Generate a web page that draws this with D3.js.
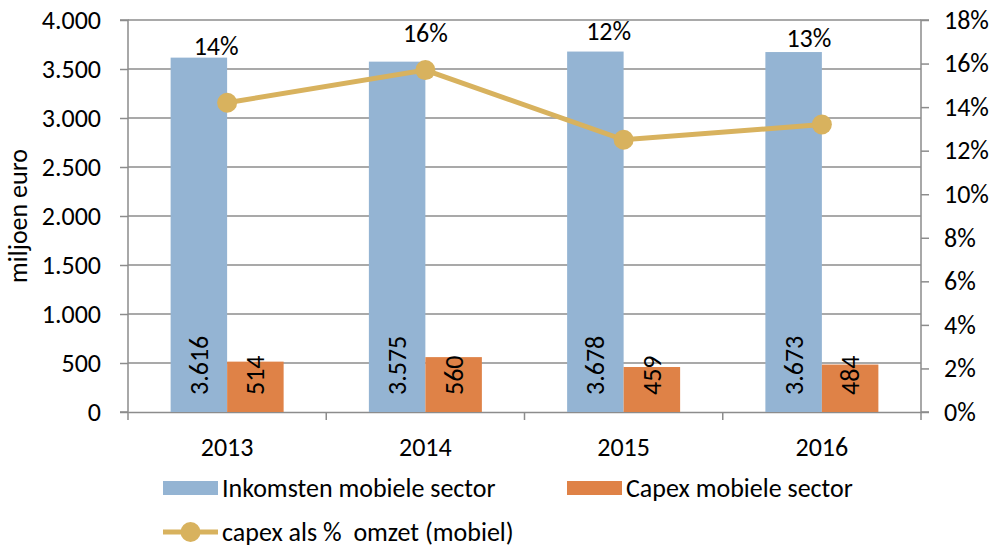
<!DOCTYPE html>
<html>
<head>
<meta charset="utf-8">
<script src="https://cdn.jsdelivr.net/npm/d3@7"></script>
<style>
  body { margin: 0; background: #fff; }
  text { font-family: Carlito, Lato, "Open Sans", sans-serif; fill: #000; white-space: pre; }
</style>
</head>
<body>
<div id="chart"></div>
<script>
const years = ["2013", "2014", "2015", "2016"];
const inkomsten = [3616, 3575, 3678, 3673];
const capex = [514, 560, 459, 484];
const capexPct = [14.2, 15.7, 12.5, 13.2];
const pctLabels = ["14%", "16%", "12%", "13%"];
const leftTicks = [0, 500, 1000, 1500, 2000, 2500, 3000, 3500, 4000];
const rightTicks = [0, 2, 4, 6, 8, 10, 12, 14, 16, 18];
const seriesNames = ["Inkomsten mobiele sector", "Capex mobiele sector", "capex als %  omzet (mobiel)"];

// hand-moved percent labels (offset from top of blue bar)
const pctNudge = [[-11, -3], [0, -20], [-15, -12], [-13, -5]];

const colors = { ink: "#94B4D3", cap: "#DF8247", line: "#D8B25E", grid: "#8C8C8C" };

const width = 995, height = 550;
const margin = { top: 20, right: 74, bottom: 138, left: 128 };
const innerW = width - margin.left - margin.right;
const innerH = height - margin.top - margin.bottom;
const fontSize = 26;

const nl = d3.formatLocale({ decimal: ",", thousands: ".", grouping: [3], currency: ["€", ""] });
const fmt = nl.format(",d");

const svg = d3.select("#chart").append("svg")
  .attr("width", width)
  .attr("height", height);

const g = svg.append("g")
  .attr("transform", `translate(${margin.left},${margin.top})`);

const x0 = d3.scaleBand()
  .domain(years)
  .range([0, innerW])
  .paddingInner(0.43)
  .paddingOuter(0.215);

const x1 = d3.scaleBand()
  .domain(["ink", "cap"])
  .range([0, x0.bandwidth()]);

const yL = d3.scaleLinear().domain([0, 4000]).range([innerH, 0]);
const yR = d3.scaleLinear().domain([0, 18]).range([innerH, 0]);

// gridlines
g.append("g")
  .selectAll("line")
  .data(leftTicks.slice(1))
  .enter()
  .append("line")
  .attr("x1", 0)
  .attr("x2", innerW)
  .attr("y1", d => yL(d))
  .attr("y2", d => yL(d))
  .attr("stroke", colors.grid)
  .attr("stroke-width", 1.5);

// left axis
const axL = g.append("g")
  .call(d3.axisLeft(yL).tickValues(leftTicks).tickFormat(fmt).tickSize(8).tickPadding(19));
// right axis
const axR = g.append("g")
  .attr("transform", `translate(${innerW},0)`)
  .call(d3.axisRight(yR).tickValues(rightTicks).tickFormat(d => d + "%").tickSize(8).tickPadding(15));
// bottom axis
const boundaries = years.map(d => x0(d) - x0.step() * x0.paddingInner() / 2).concat([innerW]);
const axB = g.append("g")
  .attr("transform", `translate(0,${innerH})`)
  .call(d3.axisBottom(x0).tickSize(0).tickPadding(26));
axB.selectAll(".tick line").remove();
axB.selectAll(".bt")
  .data(boundaries)
  .enter()
  .append("line")
  .attr("x1", d => d)
  .attr("x2", d => d)
  .attr("y1", 0)
  .attr("y2", 8)
  .attr("stroke", colors.grid)
  .attr("stroke-width", 1.5);

[axL, axR, axB].forEach(ax => {
  ax.select(".domain").attr("stroke", colors.grid).attr("stroke-width", 1.5);
  ax.selectAll(".tick line").attr("stroke", colors.grid).attr("stroke-width", 1.5);
  ax.selectAll("text").attr("font-size", fontSize).attr("font-family", null).attr("fill", "#000");
});
axL.select(".domain").attr("d", `M-8,${innerH}H0V0H-8`);
axR.select(".domain").attr("d", `M8,${innerH}H0V0H8`);

// bars
const groups = g.append("g")
  .selectAll("g")
  .data(years)
  .enter()
  .append("g")
  .attr("transform", d => `translate(${x0(d)},0)`);

groups.append("rect")
  .attr("x", x1("ink"))
  .attr("width", x1.bandwidth())
  .attr("y", (d, i) => yL(inkomsten[i]))
  .attr("height", (d, i) => innerH - yL(inkomsten[i]))
  .attr("fill", colors.ink);

groups.append("rect")
  .attr("x", x1("cap"))
  .attr("width", x1.bandwidth())
  .attr("y", (d, i) => yL(capex[i]))
  .attr("height", (d, i) => innerH - yL(capex[i]))
  .attr("fill", colors.cap);

// rotated value labels inside base
const valueLabel = (key, arr) => {
  groups.append("text")
    .attr("transform", `translate(${x1(key) + x1.bandwidth() / 2},${innerH - 17}) rotate(-90)`)
    .attr("dy", "0.35em")
    .attr("text-anchor", "start")
    .attr("font-size", fontSize)
    .text((d, i) => fmt(arr[i]));
};
valueLabel("ink", inkomsten);
valueLabel("cap", capex);

// percentage line
const cx = d => x0(d) + x0.bandwidth() / 2;
const line = d3.line()
  .x((d, i) => cx(years[i]))
  .y(d => yR(d));

g.append("path")
  .datum(capexPct)
  .attr("d", line)
  .attr("fill", "none")
  .attr("stroke", colors.line)
  .attr("stroke-width", 5);

g.selectAll(".dot")
  .data(capexPct)
  .enter()
  .append("circle")
  .attr("cx", (d, i) => cx(years[i]))
  .attr("cy", d => yR(d))
  .attr("r", 10)
  .attr("fill", colors.line);

g.selectAll(".pct")
  .data(pctLabels)
  .enter()
  .append("text")
  .attr("x", (d, i) => cx(years[i]) + pctNudge[i][0])
  .attr("y", (d, i) => yL(inkomsten[i]) + pctNudge[i][1])
  .attr("text-anchor", "middle")
  .attr("font-size", fontSize)
  .text(d => d);

// y title
svg.append("text")
  .attr("transform", `translate(18,${margin.top + innerH / 2}) rotate(-90)`)
  .attr("dy", "0.35em")
  .attr("text-anchor", "middle")
  .attr("font-size", fontSize)
  .text("miljoen euro");

// legend
const legend = svg.append("g");
const legendItems = [
  { name: seriesNames[0], color: colors.ink, type: "rect", x: 163, y: 488 },
  { name: seriesNames[1], color: colors.cap, type: "rect", x: 567, y: 488 },
  { name: seriesNames[2], color: colors.line, type: "line", x: 163, y: 532 }
];

const li = legend.selectAll("g")
  .data(legendItems)
  .enter()
  .append("g")
  .attr("transform", d => `translate(${d.x},${d.y})`);

li.filter(d => d.type === "rect").append("rect")
  .attr("x", 0)
  .attr("y", -7)
  .attr("width", 55)
  .attr("height", 14)
  .attr("fill", d => d.color);

li.filter(d => d.type === "line").append("line")
  .attr("x1", 0)
  .attr("x2", 55)
  .attr("y1", 0)
  .attr("y2", 0)
  .attr("stroke", d => d.color)
  .attr("stroke-width", 5);

li.filter(d => d.type === "line").append("circle")
  .attr("cx", 27.5)
  .attr("cy", 0)
  .attr("r", 10)
  .attr("fill", d => d.color);

li.append("text")
  .attr("x", 59)
  .attr("dy", "0.35em")
  .attr("font-size", fontSize)
  .text(d => d.name);
</script>
</body>
</html>
